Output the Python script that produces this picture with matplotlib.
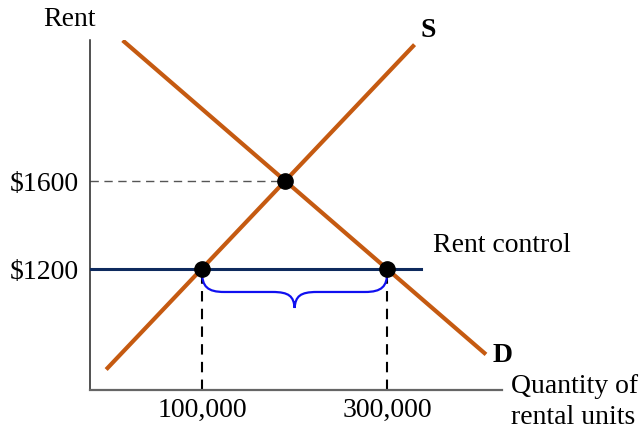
import matplotlib
matplotlib.use('Agg')
import matplotlib.pyplot as plt
from matplotlib.path import Path
from matplotlib.patches import PathPatch

# quantities in thousands of rental units, rents in dollars
rent_ticks = [1200, 1600]
rent_labels = ['$1200', '$1600']
quantity_ticks = [100, 300]
quantity_labels = ['100,000', '300,000']

supply_q = [-2, 328]
supply_rent = [750, 2213]
demand_q = [16, 405]
demand_rent = [2233, 818]

eq_q, eq_rent = 190, 1600
control_rent = 1200
control_span = [-21, 336]
supplied_q, demanded_q = 100, 300

ORANGE = '#c55a11'
NAVY = '#0e2a5e'
BLUE = '#1010f0'


def brace(x0, x1, y, depth):
    # curly brace hanging below y between x0 and x1
    w = x1 - x0
    xm = (x0 + x1) / 2
    flat = y - 0.59 * depth
    verts = [
        (x0, y - 0.08 * depth),
        (x0, y - 0.45 * depth), (x0 + 0.03 * w, flat), (x0 + 0.12 * w, flat),
        (xm - 0.12 * w, flat),
        (xm - 0.03 * w, flat), (xm - 0.005 * w, y - 0.7 * depth), (xm, y - depth),
        (xm + 0.005 * w, y - 0.7 * depth), (xm + 0.03 * w, flat), (xm + 0.12 * w, flat),
        (x1 - 0.12 * w, flat),
        (x1 - 0.03 * w, flat), (x1, y - 0.45 * depth), (x1, y - 0.08 * depth),
    ]
    codes = [Path.MOVETO,
             Path.CURVE4, Path.CURVE4, Path.CURVE4,
             Path.LINETO,
             Path.CURVE4, Path.CURVE4, Path.CURVE4,
             Path.CURVE4, Path.CURVE4, Path.CURVE4,
             Path.LINETO,
             Path.CURVE4, Path.CURVE4, Path.CURVE4]
    return Path(verts, codes)


plt.rcParams['font.family'] = ['Liberation Serif', 'DejaVu Serif']
FS = 20

fig = plt.figure(figsize=(6.41, 4.30), dpi=100)
ax = fig.add_axes([90 / 641, 40 / 430, 412 / 641, 350 / 430])
ax.set_xlim(-21, 424)
ax.set_ylim(650, 2241)

for side in ['top', 'right']:
    ax.spines[side].set_visible(False)
ax.spines['left'].set_color('#222222')
ax.spines['bottom'].set_color('#666666')
ax.spines['left'].set_linewidth(1.1)
ax.spines['bottom'].set_linewidth(1.6)

ax.set_yticks(rent_ticks, rent_labels)
ax.set_xticks(quantity_ticks, quantity_labels)
ax.tick_params(length=0, labelsize=FS, colors='black')
ax.tick_params(axis='y', pad=8)
ax.tick_params(axis='x', pad=6)

# guide lines
ax.plot([control_span[0], eq_q], [eq_rent, eq_rent], color='#555555',
        lw=1.0, dashes=(6, 4), zorder=2)
for q in [supplied_q, demanded_q]:
    ax.plot([q, q], [650, control_rent], color='black', lw=1.5,
            dashes=(5, 3.5), zorder=2)

ax.plot(supply_q, supply_rent, color=ORANGE, lw=3.0, zorder=3)
ax.plot(demand_q, demand_rent, color=ORANGE, lw=3.0, zorder=3)
ax.plot(control_span, [control_rent, control_rent], color=NAVY, lw=2.2, zorder=4)

ax.add_patch(PathPatch(brace(supplied_q, demanded_q, control_rent, 177),
                       facecolor='none', edgecolor=BLUE, lw=1.6, zorder=4))

ax.plot([eq_q, supplied_q, demanded_q], [eq_rent, control_rent, control_rent],
        'o', color='black', markersize=11, zorder=5)

ax.text(-43, 2336, 'Rent', fontsize=FS, ha='center', va='center', clip_on=False)
ax.text(344, 2286, 'S', fontsize=FS, fontweight='bold', ha='center', va='center',
        clip_on=False)
ax.text(425, 809, 'D', fontsize=FS, fontweight='bold', ha='center', va='center',
        clip_on=False)
ax.text(350, 1309, 'Rent control', fontsize=FS, ha='left', va='center')
ax.text(434, 664, 'Quantity of', fontsize=FS, ha='left', va='center', clip_on=False)
ax.text(434, 523, 'rental units', fontsize=FS, ha='left', va='center', clip_on=False)

fig.savefig('out.png', dpi=100)
